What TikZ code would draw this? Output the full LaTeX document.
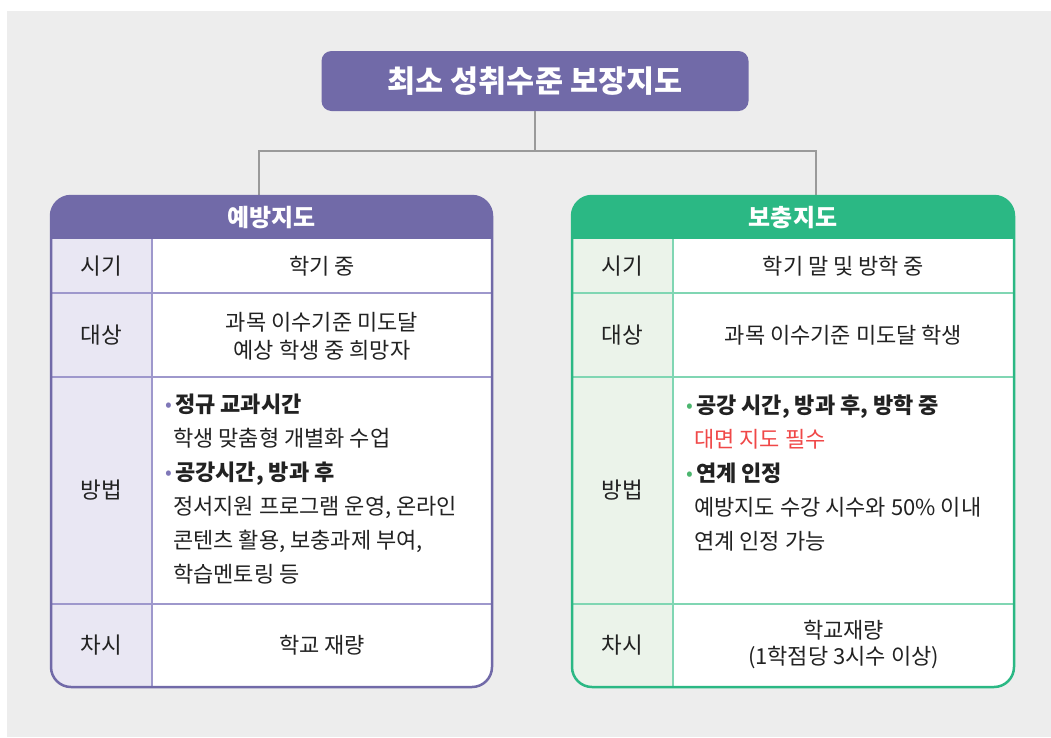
\documentclass[tikz,border=0pt]{standalone}
\usepackage{fontspec}
\setmainfont{Noto Sans CJK KR}
\usepackage{tikz}
\usetikzlibrary{positioning}
\definecolor{bggray}{HTML}{EDEDED}
\definecolor{violetmain}{HTML}{716AA8}
\definecolor{violetline}{HTML}{9E98CC}
\definecolor{violetcell}{HTML}{E9E7F3}
\definecolor{violetdot}{HTML}{7F77B8}
\definecolor{greenmain}{HTML}{2BB884}
\definecolor{greenline}{HTML}{80D6B3}
\definecolor{greencell}{HTML}{EBF3EA}
\definecolor{greendot}{HTML}{4CB66F}
\definecolor{redtext}{HTML}{F04848}
\definecolor{inkgray}{HTML}{222222}
\definecolor{linkgray}{HTML}{9A9A9A}
\tikzstyle{maintitle} = [rectangle, rounded corners=10pt, minimum width=427pt, minimum height=60pt, fill=violetmain, text=white, font=\fontsize{30.5}{34}\selectfont\bfseries]
\tikzstyle{header} = [text=white, font=\fontsize{24}{28}\selectfont\bfseries]
\tikzstyle{rowname} = [text=inkgray, font=\fontsize{22.5}{26}\selectfont]
\tikzstyle{cell} = [text=inkgray, align=center, font=\fontsize{22}{28}\selectfont]
\tikzstyle{bullets} = [text=inkgray, align=left, anchor=north west, inner sep=0pt, font=\fontsize{22}{34}\selectfont]
\tikzstyle{link} = [draw=linkgray, line width=1.5pt]
\newcommand{\pdot}[1]{\makebox[10pt][l]{\raisebox{1.5pt}{\textcolor{#1}{\fontsize{20}{20}\selectfont •}}}}

\begin{document}
\begin{tikzpicture}[x=1pt,y=-1pt]

\fill[bggray] (7,11) rectangle (1051,737);
\useasboundingbox (0,0) rectangle (1051,737);

% title and connectors
\node (title) [maintitle] at (535,81) {최소 성취수준 보장지도};
\coordinate (lefttop) at (259,196);
\coordinate (righttop) at (816,196);
\draw[link] (title.south) -- ++(0,40) coordinate (fork);
\draw[link] (lefttop) |- (fork) -| (righttop);

% left table
\begin{scope}
\clip[rounded corners=20pt] (51,196) rectangle (492,687);
\fill[white] (51,196) rectangle (492,687);
\fill[violetmain] (51,196) rectangle (492,239);
\fill[violetcell] (51,239) rectangle (152,687);
\end{scope}
\draw[violetline, line width=1.5pt] (152,239) -- (152,687) (51,293) -- (492,293) (51,377) -- (492,377) (51,604) -- (492,604);
\draw[violetmain, line width=2.5pt, rounded corners=20pt] (51,196) rectangle (492,687);

\node (lefthead) [header] at (271.5,218) {예방지도};
\node (lrow1) [rowname] at (101.5,266) {시기};
\node (lcell1) [cell] at (322,266) {학기 중};
\node (lrow2) [rowname] at (101.5,335) {대상};
\node (lcell2) [cell] at (322,336) {과목 이수기준 미도달\\예상 학생 중 희망자};
\node (lrow3) [rowname] at (101.5,490) {방법};
\node (lcell3) [bullets] at (165,394) {\pdot{violetdot}\textbf{정규 교과시간}\\
  \hspace*{8pt}학생 맞춤형 개별화 수업\\
  \pdot{violetdot}\textbf{공강시간, 방과 후}\\
  \hspace*{8pt}정서지원 프로그램 운영, 온라인\\
  \hspace*{8pt}콘텐츠 활용, 보충과제 부여,\\
  \hspace*{8pt}학습멘토링 등};
\node (lrow4) [rowname] at (101.5,645) {차시};
\node (lcell4) [cell] at (322,645) {학교 재량};

% right table
\begin{scope}
\clip[rounded corners=20pt] (572,196) rectangle (1014,687);
\fill[white] (572,196) rectangle (1014,687);
\fill[greenmain] (572,196) rectangle (1014,239);
\fill[greencell] (572,239) rectangle (673,687);
\end{scope}
\draw[greenline, line width=1.5pt] (673,239) -- (673,687) (572,293) -- (1014,293) (572,377) -- (1014,377) (572,604) -- (1014,604);
\draw[greenmain, line width=2.5pt, rounded corners=20pt] (572,196) rectangle (1014,687);

\node (righthead) [header] at (793,218) {보충지도};
\node (rrow1) [rowname] at (622.5,266) {시기};
\node (rcell1) [cell] at (843.5,266) {학기 말 및 방학 중};
\node (rrow2) [rowname] at (622.5,335) {대상};
\node (rcell2) [cell] at (843.5,335) {과목 이수기준 미도달 학생};
\node (rrow3) [rowname] at (622.5,490) {방법};
\node (rcell3) [bullets] at (686,395) {\pdot{greendot}\textbf{공강 시간, 방과 후, 방학 중}\\
  \hspace*{8pt}\textcolor{redtext}{대면 지도 필수}\\
  \pdot{greendot}\textbf{연계 인정}\\
  \hspace*{8pt}예방지도 수강 시수와 50\% 이내\\
  \hspace*{8pt}연계 인정 가능};
\node (rrow4) [rowname] at (622.5,645) {차시};
\node (rcell4) [cell, font=\fontsize{22}{26}\selectfont] at (843.5,645) {학교재량\\(1학점당 3시수 이상)};

\end{tikzpicture}
\end{document}
